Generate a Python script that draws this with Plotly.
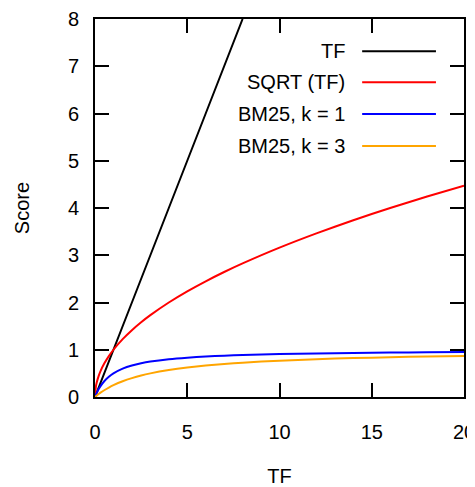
import plotly.graph_objects as go

# ---- data ----
tf_x = [0, 2, 4, 6, 8]
tf_y = [0, 2, 4, 6, 8]

x_vals = [0, 0.05, 0.1, 0.2, 0.3, 0.5, 0.75, 1, 1.5, 2, 2.5, 3, 4, 5, 6, 7, 8,
          10, 12, 14, 16, 18, 20]
sqrt_vals = [0, 0.224, 0.316, 0.447, 0.548, 0.707, 0.866, 1.0, 1.225, 1.414, 1.581,
             1.732, 2.0, 2.236, 2.449, 2.646, 2.828, 3.162, 3.464, 3.742, 4.0, 4.243, 4.472]
bm25_k1 = [0, 0.048, 0.091, 0.167, 0.231, 0.333, 0.429, 0.5, 0.6, 0.667, 0.714,
           0.75, 0.8, 0.833, 0.857, 0.875, 0.889, 0.909, 0.923, 0.933, 0.941, 0.947, 0.952]
bm25_k3 = [0, 0.016, 0.032, 0.0625, 0.091, 0.143, 0.2, 0.25, 0.333, 0.4, 0.455,
           0.5, 0.571, 0.625, 0.667, 0.7, 0.727, 0.769, 0.8, 0.824, 0.842, 0.857, 0.870]

series_names = ["TF", "SQRT (TF)", "BM25, k = 1", "BM25, k = 3"]
series_colors = ["#000000", "#ff0000", "#0000ff", "#ffa500"]

x_ticks = [0, 5, 10, 15, 20]
y_ticks = [0, 1, 2, 3, 4, 5, 6, 7, 8]

FONT = "Liberation Sans, Arial, sans-serif"

fig = go.Figure()
data = [(tf_x, tf_y), (x_vals, sqrt_vals), (x_vals, bm25_k1), (x_vals, bm25_k3)]
for (xs, ys), name, col in zip(data, series_names, series_colors):
    fig.add_trace(go.Scatter(x=xs, y=ys, mode="lines", name=name,
                             line=dict(color=col, width=2, shape="spline", smoothing=0.6),
                             showlegend=False))

# manual gnuplot-style legend: right-aligned text, sample line to the right
leg_y = [0.915, 0.833, 0.749, 0.664]
for name, col, yy in zip(series_names, series_colors, leg_y):
    fig.add_annotation(xref="paper", yref="paper", x=0.683, y=yy, text=name,
                       showarrow=False, xanchor="right", yanchor="middle",
                       font=dict(family=FONT, size=20, color="#000000"))
    fig.add_shape(type="line", xref="paper", yref="paper", x0=0.724, x1=0.924,
                  y0=yy, y1=yy, line=dict(color=col, width=2))

axis_common = dict(showgrid=False, zeroline=False, showline=True, linecolor="#000000",
                   linewidth=2, mirror="ticks", ticks="inside", ticklen=14,
                   tickwidth=2, tickcolor="#000000", ticklabeloverflow="allow",
                   tickfont=dict(family=FONT, size=20, color="#000000"))

fig.update_xaxes(range=[0, 20], tickvals=x_ticks, ticktext=[str(v) for v in x_ticks],
                 ticklabelstandoff=16,
                 title=dict(text="TF", font=dict(family=FONT, size=20, color="#000000"),
                            standoff=32),
                 **axis_common)
fig.update_yaxes(range=[0, 8], tickvals=y_ticks, ticktext=[str(v) for v in y_ticks],
                 ticklabelstandoff=10,
                 title=dict(text="Score", font=dict(family=FONT, size=20, color="#000000"),
                            standoff=33),
                 **axis_common)

# page body has an 8px margin, so the figure is sized/placed to compensate
fig.update_layout(width=467, height=479,
                  margin=dict(l=87, r=11, t=11, b=90, autoexpand=False),
                  plot_bgcolor="#ffffff", paper_bgcolor="#ffffff",
                  font=dict(family=FONT, size=20, color="#000000"))

fig.write_html("out.html")
